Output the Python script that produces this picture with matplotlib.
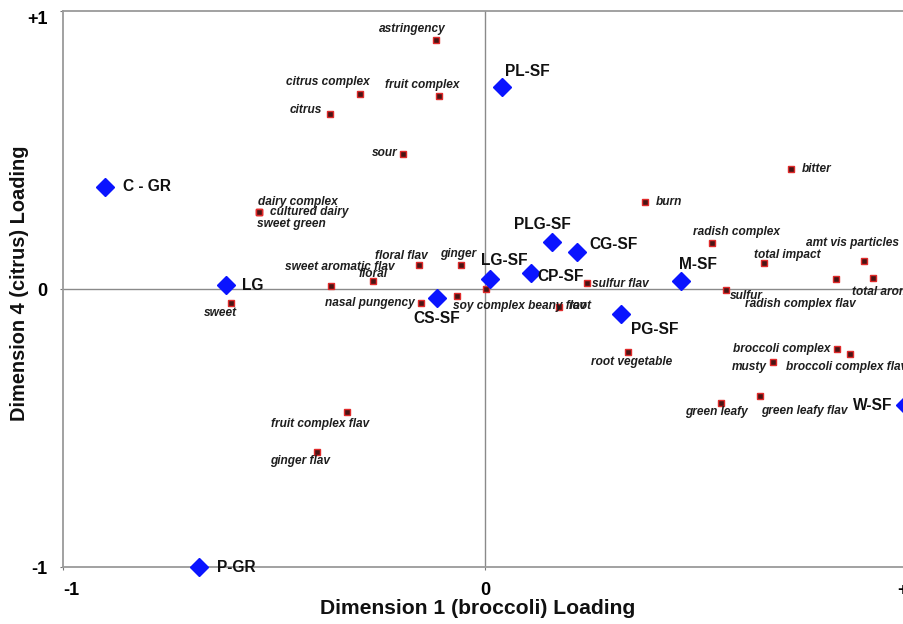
import matplotlib
matplotlib.use("Agg")
import matplotlib.pyplot as plt

plt.rcParams['font.family'] = ['Liberation Sans', 'DejaVu Sans']

# ---- data ----
products = ["PL-SF", "C - GR", "LG", "P-GR", "PLG-SF", "CG-SF", "LG-SF",
            "CP-SF", "CS-SF", "M-SF", "PG-SF", "W-SF"]
prod_x = [0.040, -0.900, -0.614, -0.678, 0.159, 0.218, 0.012,
          0.109, -0.114, 0.464, 0.322, 0.995]
prod_y = [0.727, 0.367, 0.014, -1.000, 0.169, 0.133, 0.036,
          0.058, -0.032, 0.029, -0.090, -0.417]

attributes = ["astringency", "citrus complex", "fruit complex", "citrus", "sour",
              "bitter", "burn", "dairy complex", "cultured dairy", "sweet green",
              "radish complex", "floral flav", "ginger", "total impact",
              "amt vis particles", "radish complex flav", "total aroma", "sulfur",
              "sulfur flav", "sweet aromatic flav", "floral", "nasal pungency", "",
              "soy complex beany flav", "root", "sweet", "root vegetable",
              "broccoli complex", "broccoli complex flav", "musty", "green leafy",
              "green leafy flav", "fruit complex flav", "ginger flav"]
attr_x = [-0.116, -0.296, -0.109, -0.367, -0.194,
          0.725, 0.379, -0.536, -0.536, -0.536,
          0.538, -0.156, -0.057, 0.661,
          0.898, 0.832, 0.919, 0.571,
          0.242, -0.365, -0.265, -0.152, -0.066,
          0.002, 0.175, -0.602, 0.339,
          0.834, 0.865, 0.682, 0.559,
          0.652, -0.327, -0.398]
attr_y = [0.896, 0.701, 0.694, 0.629, 0.486,
          0.432, 0.313, 0.277, 0.277, 0.277,
          0.165, 0.086, 0.086, 0.094,
          0.101, 0.036, 0.040, -0.004,
          0.022, 0.011, 0.029, -0.050, -0.025,
          0.000, -0.065, -0.050, -0.227,
          -0.216, -0.234, -0.263, -0.410,
          -0.385, -0.442, -0.586]

tick_vals = [-1, 0, 1]
tick_labels = ["-1", "0", "+1"]
x_title = "Dimension 1 (broccoli) Loading"
y_title = "Dimension 4 (citrus) Loading"

# ---- label offsets (pixels) ----
prod_off = {"PL-SF": (25, 15), "C - GR": (42, 0), "LG": (27, 0), "P-GR": (37, 0),
            "PLG-SF": (-10, 18), "CG-SF": (37, 8), "LG-SF": (14, 18),
            "CP-SF": (30, -4), "CS-SF": (0, -21), "M-SF": (17, 16),
            "PG-SF": (34, -15), "W-SF": (-32, -1)}
attr_off = {"astringency": (-24, 11), "citrus complex": (-32, 12),
            "fruit complex": (-17, 11), "citrus": (-24, 4), "sour": (-18, 1),
            "bitter": (26, 0), "burn": (24, 0), "dairy complex": (39, 10),
            "cultured dairy": (50, 0), "sweet green": (33, -12),
            "radish complex": (24, 11), "floral flav": (-18, 9), "ginger": (-3, 11),
            "total impact": (23, 8), "amt vis particles": (-11, 18),
            "radish complex flav": (-36, -25), "total aroma": (11, -14),
            "sulfur": (20, -6), "sulfur flav": (33, -1),
            "sweet aromatic flav": (9, 19), "floral": (0, 7),
            "nasal pungency": (-51, 0), "soy complex beany flav": (34, -17),
            "root": (22, 1), "sweet": (-11, -10), "root vegetable": (4, -10),
            "broccoli complex": (-55, 0), "broccoli complex flav": (-3, -13),
            "musty": (-24, -5), "green leafy": (-4, -9),
            "green leafy flav": (44, -15), "fruit complex flav": (-27, -12),
            "ginger flav": (-17, -9)}

W, H = 904, 624
fig = plt.figure(figsize=(W / 100, H / 100), dpi=100)
ax = fig.add_axes([63 / W, 57 / H, 844 / W, 556 / H])
ax.set_xlim(-1, 1)
ax.set_ylim(-1, 1)

ax.axhline(0, color="#8a8a8a", lw=1.0, zorder=1)
ax.axvline(0, color="#8a8a8a", lw=1.0, zorder=1)

ax.plot(attr_x, attr_y, linestyle="none", marker="s", ms=4.2,
        mfc="#4a1414", mec="#e02a2a", mew=1.0, zorder=3, clip_on=False)
ax.plot(prod_x, prod_y, linestyle="none", marker="D", ms=9,
        mfc="#0a14ff", mec="#0a14ff", zorder=4, clip_on=False)

for name, x, y in zip(attributes, attr_x, attr_y):
    if not name:
        continue
    dx, dy = attr_off.get(name, (0, 0))
    ax.annotate(name, (x, y), xytext=(dx, dy), textcoords="offset pixels",
                ha="center", va="center", fontsize=8.6, fontweight="bold",
                fontstyle="italic", color="#1e1e1e", zorder=5,
                annotation_clip=False)

for name, x, y in zip(products, prod_x, prod_y):
    dx, dy = prod_off.get(name, (0, 0))
    ax.annotate(name, (x, y), xytext=(dx, dy), textcoords="offset pixels",
                ha="center", va="center", fontsize=11.2, fontweight="bold",
                color="#111111", zorder=6, annotation_clip=False)

for s in ax.spines.values():
    s.set_color("#9a9a9a")
    s.set_linewidth(1.3)

ax.set_xticks(tick_vals)
ax.set_xticklabels(tick_labels)
ax.set_yticks(tick_vals)
ax.set_yticklabels(tick_labels)
ax.tick_params(length=2, color="#777777", labelsize=13, pad=9)
for lab in ax.get_xticklabels() + ax.get_yticklabels():
    lab.set_fontweight("bold")
ax.get_yticklabels()[2].set_va("top")
ax.get_xticklabels()[0].set_ha("left")

fig.text(478 / W, 1 - 609 / H, x_title, ha="center", va="center",
         fontsize=15.2, fontweight="bold", color="#111111")
fig.text(20 / W, 1 - 283 / H, y_title, ha="center", va="center",
         rotation=90, fontsize=14.4, fontweight="bold", color="#111111")

fig.savefig("out.png", dpi=100)
